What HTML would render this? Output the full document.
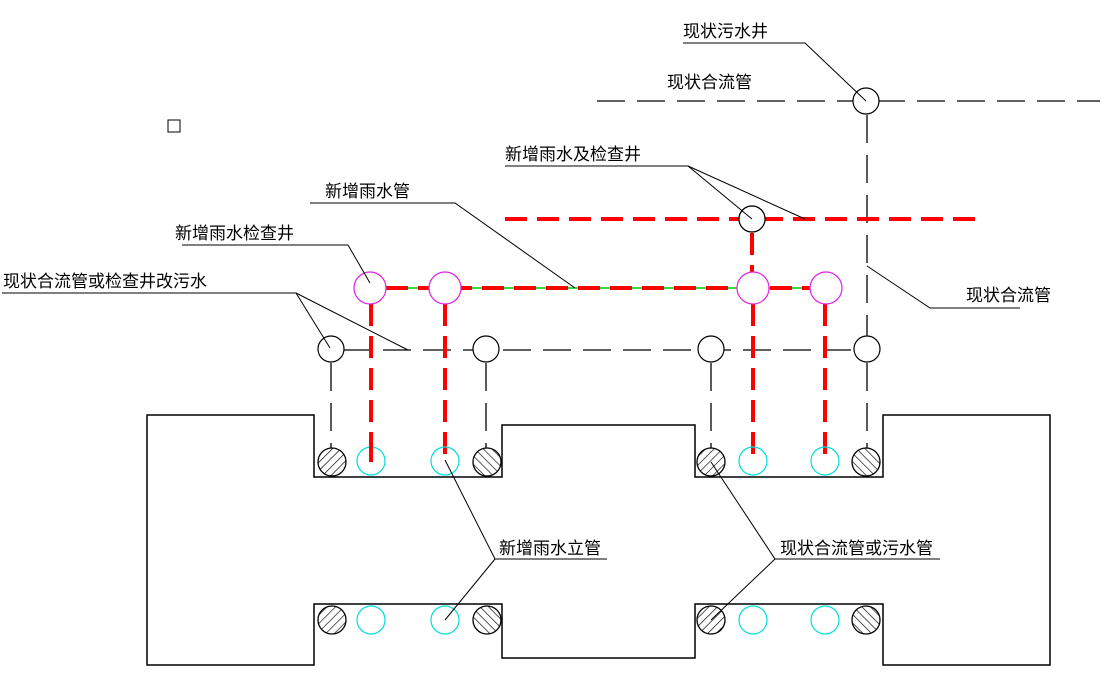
<!DOCTYPE html>
<html><head><meta charset="utf-8"><style>
html,body{margin:0;padding:0;background:#fff;}
svg{display:block;}
text{font-family:"Liberation Sans","Noto Sans CJK SC",sans-serif;font-size:17px;fill:#000;}
</style></head><body>
<svg width="1110" height="681" viewBox="0 0 1110 681" xmlns="http://www.w3.org/2000/svg">
<defs>
<pattern id="h1" width="6" height="6" patternUnits="userSpaceOnUse" patternTransform="rotate(45)"><line x1="0" y1="0" x2="0" y2="6" stroke="#000" stroke-width="1.3"/></pattern>
<pattern id="h2" width="6" height="6" patternUnits="userSpaceOnUse" patternTransform="rotate(-45)"><line x1="0" y1="0" x2="0" y2="6" stroke="#000" stroke-width="1.3"/></pattern>
</defs>
<rect x="168" y="120" width="12" height="12" fill="none" stroke="#000"/>
<!-- building -->
<path d="M147 415 H314 V477 H502 V425 H695 V477 H883 V415 H1050 V665 H883 V604 H695 V658 H502 V604 H314 V665 H147 Z" fill="none" stroke="#000" stroke-width="1.5"/>
<!-- black dashed existing lines -->
<g stroke="#000" stroke-width="1.3" fill="none" stroke-dasharray="28,12">
<line x1="597" y1="101" x2="1100" y2="101"/>
<line x1="867" y1="115" x2="867" y2="336"/>
<line x1="343" y1="350" x2="856" y2="350"/>
<line x1="331" y1="363" x2="331" y2="448"/>
<line x1="486" y1="363" x2="486" y2="448"/>
<line x1="711" y1="363" x2="711" y2="448"/>
<line x1="867" y1="363" x2="867" y2="448"/>
</g>
<!-- existing wells -->
<g stroke="#000" stroke-width="1.2" fill="#fff">
<circle cx="866" cy="101" r="13"/>
<circle cx="331" cy="349" r="13"/>
<circle cx="486" cy="349" r="13"/>
<circle cx="711" cy="349" r="13"/>
<circle cx="867" cy="349" r="13"/>
<circle cx="752" cy="219" r="13"/>
</g>
<!-- red dashed -->
<line x1="386" y1="288" x2="810" y2="288" stroke="#0c0" stroke-width="1.5"/>
<g stroke="#f00" stroke-width="4" fill="none" stroke-dasharray="22,10">
<line x1="505" y1="219" x2="985" y2="219"/>
<line x1="752" y1="233" x2="752" y2="272"/>
<line x1="386" y1="288" x2="810" y2="288"/>
<line x1="371" y1="304" x2="371" y2="462"/>
<line x1="445" y1="304" x2="445" y2="462"/>
<line x1="753" y1="304" x2="753" y2="462"/>
<line x1="825" y1="304" x2="825" y2="462"/>
</g>
<circle cx="752" cy="219" r="13" fill="#fff" stroke="#000" stroke-width="1.2"/>
<!-- magenta wells -->
<g stroke="#e020e0" stroke-width="1.2" fill="#fff">
<circle cx="370" cy="288" r="16"/><circle cx="445" cy="288" r="16"/>
<circle cx="753" cy="288" r="16"/><circle cx="826" cy="288" r="16"/>
</g>
<!-- cyan -->
<g stroke="#0dd" stroke-width="1.2" fill="none">
<circle cx="371" cy="461" r="14"/><circle cx="445" cy="461" r="14"/>
<circle cx="753" cy="461" r="14"/><circle cx="825" cy="461" r="14"/>
<circle cx="371" cy="620" r="14"/><circle cx="445" cy="620" r="14"/>
<circle cx="753" cy="620" r="14"/><circle cx="825" cy="620" r="14"/>
</g>
<line x1="371" y1="440" x2="371" y2="462" stroke="#f00" stroke-width="4"/>
<!-- hatched -->
<g stroke="#000" stroke-width="1.3">
<circle cx="332" cy="462" r="14" fill="url(#h1)"/>
<circle cx="487" cy="462" r="14" fill="url(#h2)"/>
<circle cx="711" cy="462" r="14" fill="url(#h1)"/>
<circle cx="866" cy="462" r="14" fill="url(#h2)"/>
<circle cx="332" cy="620" r="14" fill="url(#h1)"/>
<circle cx="487" cy="620" r="14" fill="url(#h2)"/>
<circle cx="711" cy="620" r="14" fill="url(#h1)"/>
<circle cx="866" cy="620" r="14" fill="url(#h2)"/>
</g>
<!-- leaders -->
<g stroke="#000" stroke-width="1" fill="none">
<polyline points="683,43 805,43 866,101"/>
<polyline points="505,166 688,166 752,219"/>
<line x1="688" y1="166" x2="805" y2="219"/>
<polyline points="310,203 455,203 575,288"/>
<polyline points="182,245 348,245 370,283"/>
<polyline points="2,293 296,293 330,348"/>
<line x1="296" y1="293" x2="408" y2="350"/>
<polyline points="1020,308 930,308 867,266"/>
<polyline points="607,559 495,559 445,460"/>
<line x1="495" y1="559" x2="445" y2="620"/>
<polyline points="940,559 775,559 711,462"/>
<line x1="775" y1="559" x2="711" y2="620"/>
</g>
<text x="683" y="37">现状污水井</text>
<text x="667" y="88">现状合流管</text>
<text x="505" y="160">新增雨水及检查井</text>
<text x="325" y="197">新增雨水管</text>
<text x="175" y="239">新增雨水检查井</text>
<text x="3" y="287">现状合流管或检查井改污水</text>
<text x="966" y="301">现状合流管</text>
<text x="499" y="554">新增雨水立管</text>
<text x="780" y="554">现状合流管或污水管</text>
</svg>
</body></html>
